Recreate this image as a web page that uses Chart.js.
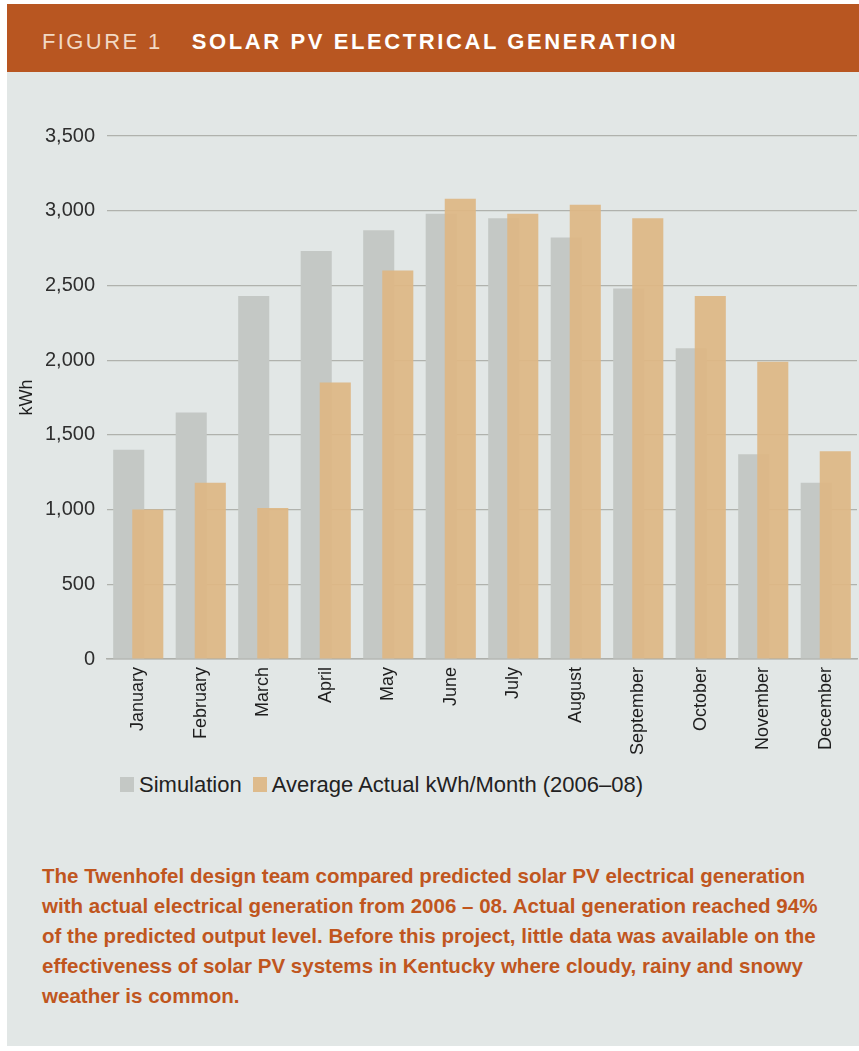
<!DOCTYPE html>
<html lang="en">
<head>
<meta charset="UTF-8" />
<title>Figure 1 – Solar PV Electrical Generation</title>
<script src="https://cdn.jsdelivr.net/npm/chart.js@4.4.1/dist/chart.umd.min.js"></script>
<style>
  html, body { margin: 0; padding: 0; background: #fff; }
  body { width: 859px; height: 1051px; position: relative; overflow: hidden; }
  .head { position: absolute; left: 7px; top: 4px; width: 852px; height: 68px; background: #b85621; }
  .head .t { position: absolute; left: 35px; top: 27px; font-family: "Liberation Sans", Arial, sans-serif; font-size: 22px; line-height: 22px; white-space: nowrap; }
  .head .fig { color: #f2d9c4; letter-spacing: 2.4px; }
  .head .ttl { color: #fff; font-weight: bold; letter-spacing: 2.6px; margin-left: 29px; }
  .panel { position: absolute; left: 7px; top: 72px; width: 852px; height: 974px; background: #e2e7e6; }
  .wrap { position: absolute; left: 8px; top: 72px; width: 851px; height: 687px; }
  .legend { position: absolute; left: 120px; top: 774px; font-family: "Liberation Sans", Arial, sans-serif; font-size: 22px; line-height: 22px; color: #222; white-space: nowrap; }
  .legend i { display: inline-block; width: 14px; height: 15px; margin-right: 5px; vertical-align: baseline; }
  .legend span { margin-right: 11px; }
  .cap { position: absolute; left: 42px; top: 861px; font-family: "Liberation Sans", Arial, sans-serif; font-weight: bold; font-size: 21px; line-height: 30px; color: #c0561e; white-space: nowrap; transform-origin: 0 0; }
</style>
</head>
<body>

<div class="head"><div class="t"><span class="fig">FIGURE 1</span><span class="ttl">SOLAR PV ELECTRICAL GENERATION</span></div></div>
<div class="panel"></div>
<div class="wrap"><canvas id="pv"></canvas></div>
<div class="legend" id="legend"></div>
<div class="cap" id="cap"><span id="capLine1">The Twenhofel design team compared predicted solar PV electrical generation</span><br>with actual electrical generation from 2006 – 08. Actual generation reached 94%<br>of the predicted output level. Before this project, little data was available on the<br>effectiveness of solar PV systems in Kentucky where cloudy, rainy and snowy<br>weather is common.</div>

<script>
// 月份與兩組數值（kWh），從圖上讀出來的估計值
const months = ["January","February","March","April","May","June","July","August","September","October","November","December"];
const simulation = [1400, 1650, 2430, 2730, 2870, 2980, 2950, 2820, 2480, 2080, 1370, 1180];
const actual = [1000, 1180, 1010, 1850, 2600, 3080, 2980, 3040, 2950, 2430, 1990, 1390];
const yTicks = [0, 500, 1000, 1500, 2000, 2500, 3000, 3500];
const seriesNames = ["Simulation", "Average Actual kWh/Month (2006–08)"];

const gray = "#c4c8c5";
const tan = "rgba(222,183,132,0.93)";
const fontFamily = '"Liberation Sans", Arial, sans-serif';

// 橘色那組要蓋在灰色上面：先跳過，最後再畫
const tanOnTop = {
  id: "tanOnTop",
  beforeDatasetDraw(chart, args) { if (args.index === 1) return false; },
  afterDatasetsDraw(chart) { chart.getDatasetMeta(1).controller.draw(); },
};

new Chart(document.getElementById("pv"), {
  type: "bar",
  data: {
    labels: months,
    datasets: [
      { label: seriesNames[0], data: simulation, backgroundColor: gray },
      { label: seriesNames[1], data: actual, backgroundColor: tan },
    ],
  },
  options: {
    responsive: true,
    maintainAspectRatio: false,
    animation: false,
    categoryPercentage: 0.61,
    barPercentage: 1.63,
    layout: { padding: { top: 64, right: 2, left: 0, bottom: 0 } },
    plugins: { legend: { display: false }, tooltip: { enabled: false } },
    scales: {
      x: {
        grid: { display: false, drawTicks: false },
        border: { display: true, color: "#aeb0ab", width: 1.5 },
        ticks: { minRotation: 90, maxRotation: 90, padding: 8, color: "#1e1e1e", font: { family: fontFamily, size: 18 } },
        afterFit(scale) { scale.height = 100; },
      },
      y: {
        min: 0,
        max: 3500,
        afterBuildTicks(scale) { scale.ticks = yTicks.map((v) => ({ value: v })); },
        grid: { color: "#b0b2ad", lineWidth: 1.2, drawTicks: false },
        border: { display: false },
        ticks: {
          padding: 12, color: "#2e2e2e", font: { family: fontFamily, size: 20 },
          callback: (v) => v.toLocaleString("en-US"),
        },
        title: { display: true, text: "kWh", color: "#1e1e1e", font: { family: fontFamily, size: 18 }, padding: { top: 8, bottom: 0 } },
        afterFit(scale) { scale.width = 99; },
      },
    },
  },
  plugins: [tanOnTop],
});

// 圖例用 HTML 畫，位置比較好對齊
document.getElementById("legend").innerHTML = seriesNames
  .map((name, i) => '<span><i style="background:' + (i === 0 ? gray : tan) + '"></i>' + name + "</span>")
  .join("");

// 說明文字原本是窄體字，這裡把第一行壓到原圖的寬度（約 763px）
const cap = document.getElementById("cap");
const line1Width = document.getElementById("capLine1").getBoundingClientRect().width;
cap.style.transform = "scaleX(" + (763 / line1Width).toFixed(3) + ")";
</script>

</body>
</html>
